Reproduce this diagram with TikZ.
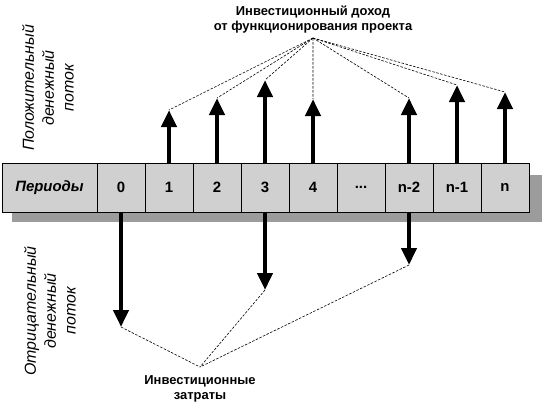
\documentclass[tikz,border=0pt]{standalone}
\usepackage{fontspec}
\setmainfont{Liberation Sans}
\usetikzlibrary{positioning,arrows.meta,calc,backgrounds}
\definecolor{cellgray}{HTML}{D0D0D0}
\definecolor{shadowgray}{HTML}{9C9C9C}
\tikzset{
  period/.style={rectangle,draw=black,fill=cellgray,line width=0.8bp,outer sep=0pt,
    minimum width=48bp,minimum height=49bp,inner sep=0pt,
    font=\bfseries\fontsize{15}{18}\selectfont},
  headcell/.style={period,minimum width=95bp,font=\bfseries\itshape\fontsize{15}{18}\selectfont},
  inflow/.style={line width=4.5bp,-{Triangle[length=17bp,width=15bp]}},
  outflow/.style={inflow},
  lead/.style={dash pattern=on 2.5bp off 1.5bp,line width=0.6bp},
  note/.style={align=center,inner xsep=1bp,font=\bfseries\fontsize{13}{15}\selectfont},
  side/.style={align=center,rotate=90,inner sep=0pt,font=\itshape\fontsize{16}{20}\selectfont},
}

\begin{document}
\begin{tikzpicture}[x=1bp,y=-1bp]
  \useasboundingbox (0,0) rectangle (547,405);
  % row of periods
  \node[headcell,anchor=north west] (per) at (2,163) {Периоды};
  \node[period,right=0pt of per] (c0) {0};
  \node[period,right=0pt of c0] (c1) {1};
  \node[period,right=0pt of c1] (c2) {2};
  \node[period,right=0pt of c2] (c3) {3};
  \node[period,right=0pt of c3] (c4) {4};
  \node[period,right=0pt of c4] (cdots) {...};
  \node[period,right=0pt of cdots] (cn2) {n-2};
  \node[period,right=0pt of cn2] (cn1) {n-1};
  \node[period,right=0pt of cn1] (cn) {n};
  \begin{scope}[on background layer]
    \fill[shadowgray] ($(per.north west)+(10,12)$) rectangle ($(cn.south east)+(13,10)$);
  \end{scope}

  % positive flows
  \draw[inflow] (c1.north) -- ++(0,-53) coordinate (u1);
  \draw[inflow] (c2.north) -- ++(0,-65) coordinate (u2);
  \draw[inflow] (c3.north) -- ++(0,-83) coordinate (u3);
  \draw[inflow] (c4.north) -- ++(0,-64) coordinate (u4);
  \draw[inflow] (cn2.north) -- ++(0,-65) coordinate (un2);
  \draw[inflow] (cn1.north) -- ++(0,-78) coordinate (un1);
  \draw[inflow] (cn.north) -- ++(0,-71) coordinate (un);

  % negative flows
  \draw[outflow] (c0.south) -- ++(0,115) coordinate (d0);
  \draw[outflow] (c3.south) -- ++(0,78) coordinate (d3);
  \draw[outflow] (cn2.south) -- ++(0,53) coordinate (dn2);

  % notes
  \node[note,inner ysep=5bp,anchor=south] (gain) at (313,38) {Инвестиционный доход\\от функционирования проекта};
  \node[note,inner ysep=8bp,anchor=north] (cost) at (200,367) {Инвестиционные\\затраты};
  \foreach \t in {u1,u2,u3,u4,un2,un1,un}
    \draw[lead] (gain.south) -- (\t);
  \foreach \t in {d0,d3,dn2}
    \draw[lead] (\t) -- (cost.north);

  \node[side] (plus) at (48,88) {Положительный\\денежный\\поток};
  \node[side] (minus) at (50,311) {Отрицательный\\денежный\\поток};
\end{tikzpicture}
\end{document}
